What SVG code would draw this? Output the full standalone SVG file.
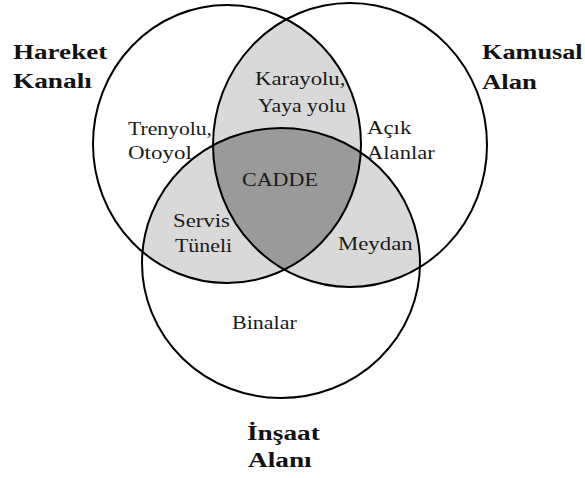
<svg xmlns="http://www.w3.org/2000/svg" width="585" height="478" viewBox="0 0 585 478">
<style>
.c{fill:none;stroke:#000;stroke-width:2}
.t{font-family:'Liberation Serif','Times New Roman',serif;font-size:19px;fill:#1a1a1a}
.b{font-family:'Liberation Serif','Times New Roman',serif;font-size:21px;font-weight:bold;fill:#111}
.lg{fill:#d9d9d9}
.dg{fill:#9a9a9a}
</style>
<defs>
<clipPath id="cpR"><ellipse cx="350" cy="145" rx="137" ry="142"/></clipPath>
<clipPath id="cpB"><ellipse cx="281" cy="263" rx="139" ry="135"/></clipPath>
</defs>
<rect width="585" height="478" fill="#fff"/>
<g id="fills">
<ellipse class="lg" cx="227" cy="144" rx="134" ry="139" clip-path="url(#cpR)"/>
<ellipse class="lg" cx="227" cy="144" rx="134" ry="139" clip-path="url(#cpB)"/>
<ellipse class="lg" cx="350" cy="145" rx="137" ry="142" clip-path="url(#cpB)"/>
<g clip-path="url(#cpR)"><ellipse class="dg" cx="227" cy="144" rx="134" ry="139" clip-path="url(#cpB)"/></g>
</g>
<g id="hareket-kanali">
<ellipse class="c" cx="227" cy="144" rx="134" ry="139"/>
<text class="b" transform="translate(13 59) scale(1.29 1)">Hareket</text>
<text class="b" transform="translate(13 88) scale(1.3 1)">Kanalı</text>
</g>
<g id="kamusal-alan">
<ellipse class="c" cx="350" cy="145" rx="137" ry="142"/>
<text class="b" transform="translate(482 59) scale(1.25 1)">Kamusal</text>
<text class="b" transform="translate(482 89) scale(1.27 1)">Alan</text>
</g>
<g id="insaat-alani">
<ellipse class="c" cx="281" cy="263" rx="139" ry="135"/>
<text class="b" transform="translate(247 440) scale(1.3 1)">İnşaat</text>
<text class="b" transform="translate(248 467) scale(1.3 1)">Alanı</text>
</g>
<g id="trenyolu">
<text class="t" transform="translate(128 135) scale(1.14 1)">Trenyolu,</text>
<text class="t" transform="translate(128 159) scale(1.21 1)">Otoyol</text>
</g>
<g id="karayolu">
<text class="t" transform="translate(255 85) scale(1.2 1)">Karayolu,</text>
<text class="t" transform="translate(258 112) scale(1.145 1)">Yaya yolu</text>
</g>
<g id="acik-alanlar">
<text class="t" transform="translate(367 134) scale(1.2 1)">Açık</text>
<text class="t" transform="translate(367 159) scale(1.19 1)">Alanlar</text>
</g>
<g id="cadde">
<text class="t" transform="translate(242 186) scale(1.16 1)">CADDE</text>
</g>
<g id="servis-tuneli">
<text class="t" transform="translate(173 227) scale(1.2 1)">Servis</text>
<text class="t" transform="translate(175 252) scale(1.15 1)">Tüneli</text>
</g>
<g id="meydan">
<text class="t" transform="translate(338 250) scale(1.2 1)">Meydan</text>
</g>
<g id="binalar">
<text class="t" transform="translate(232 329) scale(1.16 1)">Binalar</text>
</g>
</svg>
